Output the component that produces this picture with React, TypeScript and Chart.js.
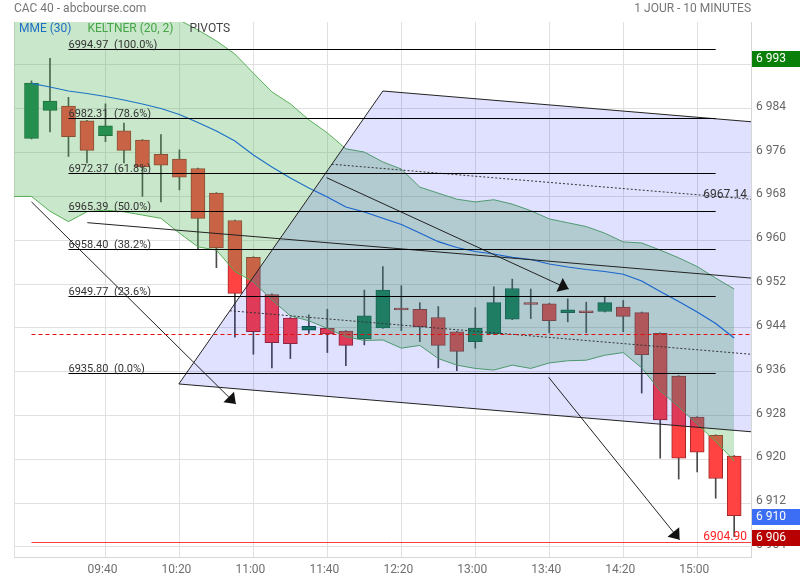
import React, { useEffect, useRef } from 'react';
import { Chart, registerables } from 'chart.js';

Chart.register(...registerables);

// ---------- DATA ----------
// candle index 0 = 09:00, one candle every 10 minutes
const opens = [6978.6, 6983.7, 6984.5, 6981.8, 6979.1, 6980.0, 6978.3, 6975.7, 6974.8, 6973.1, 6968.6, 6963.6, 6956.9, 6950.1, 6945.8, 6943.6, 6943.9, 6943.4, 6942.0, 6944.0, 6947.6, 6947.4, 6945.9, 6943.3, 6941.5, 6942.9, 6945.6, 6948.6, 6948.4, 6946.8, 6947.1, 6947.0, 6947.8, 6946.8, 6943.0, 6935.2, 6927.7, 6924.4, 6920.6];
const highs = [6989.1, 6993.2, 6986.1, 6981.9, 6984.9, 6981.4, 6978.4, 6979.3, 6976.5, 6973.2, 6968.7, 6963.7, 6957.0, 6950.2, 6945.9, 6946.4, 6947.4, 6943.5, 6950.9, 6955.2, 6951.7, 6948.6, 6947.9, 6943.4, 6947.7, 6951.5, 6952.9, 6951.1, 6948.5, 6949.3, 6948.7, 6949.7, 6949.0, 6946.9, 6943.1, 6935.3, 6927.8, 6924.5, 6920.7];
const lows = [6978.5, 6979.8, 6975.3, 6974.1, 6978.0, 6974.1, 6968.0, 6967.0, 6969.2, 6958.4, 6955.0, 6942.3, 6939.2, 6936.7, 6938.4, 6943.0, 6939.5, 6937.1, 6940.9, 6943.9, 6943.5, 6941.5, 6936.7, 6936.2, 6940.3, 6942.8, 6945.5, 6945.7, 6943.1, 6945.1, 6943.1, 6946.9, 6943.3, 6932.1, 6920.2, 6916.4, 6917.7, 6912.9, 6905.9];
const closes = [6988.7, 6985.4, 6978.9, 6976.4, 6980.9, 6976.4, 6973.4, 6973.7, 6971.5, 6964.0, 6958.6, 6950.3, 6943.3, 6941.3, 6941.1, 6944.3, 6942.9, 6940.8, 6946.2, 6950.9, 6947.3, 6944.2, 6940.8, 6939.7, 6943.9, 6948.6, 6951.2, 6948.3, 6945.3, 6947.3, 6946.8, 6948.6, 6946.1, 6939.1, 6927.2, 6920.2, 6921.3, 6916.5, 6909.7];

const mme30 = [6988.66, 6987.98, 6987.25, 6986.8, 6986.25, 6985.61, 6984.88, 6984.06, 6982.96, 6981.5, 6979.95, 6978.12, 6975.57, 6973.38, 6971.37, 6969.54, 6967.9, 6966.07, 6965.16, 6964.01, 6962.88, 6961.33, 6959.74, 6958.68, 6957.95, 6957.49, 6956.89, 6956.49, 6955.67, 6955.12, 6954.66, 6954.3, 6953.79, 6952.56, 6950.65, 6948.82, 6946.9, 6944.8, 6942.16];

const keltnerUpper = [7007.2, 7004.6, 7002.6, 7004.4, 7004.8, 7004.4, 7003.9, 7003.0, 7000.2, 6998.4, 6996.4, 6994.0, 6990.5, 6987.1, 6984.9, 6982.0, 6979.6, 6976.7, 6976.1, 6974.3, 6973.0, 6969.7, 6968.6, 6967.5, 6967.0, 6967.4, 6966.6, 6965.4, 6963.9, 6963.2, 6962.5, 6961.3, 6959.7, 6959.5, 6958.2, 6956.8, 6955.2, 6953.1, 6951.1];
const keltnerLower = [6968.0, 6965.3, 6963.4, 6965.2, 6965.5, 6965.2, 6964.6, 6964.0, 6961.3, 6958.8, 6958.2, 6954.3, 6952.4, 6949.1, 6946.2, 6945.3, 6943.9, 6942.4, 6941.7, 6941.8, 6940.3, 6940.8, 6938.4, 6937.2, 6936.6, 6936.3, 6937.2, 6936.6, 6937.6, 6938.0, 6938.1, 6939.0, 6939.5, 6936.7, 6932.5, 6929.6, 6926.4, 6923.3, 6919.7];

const xTickIndex = [4, 8, 12, 16, 20, 24, 28, 32, 36];
const xTickLabels = ['09:40', '10:20', '11:00', '11:40', '12:20', '13:00', '13:40', '14:20', '15:00'];
const yTickValues = [6904, 6912, 6920, 6928, 6936, 6944, 6952, 6960, 6968, 6976, 6984, 6992];

const pivotValues = [6994.97, 6982.31, 6972.37, 6965.39, 6958.4, 6949.77, 6935.8];
const pivotPercents = [100, 78.6, 61.8, 50, 38.2, 23.6, 0];
const pivotSpan = [2, 37];

const prevClose = 6942.83;
const supportLevel = 6904.9;

// drawing tools: [candle index, value]
const channelTop = [[19.0, 6987.25], [40, 6981.33]];
const channelBottom = [[7.97, 6933.76], [40, 6924.73]];
const channelQuarterHigh = [[16.24, 6973.88], [40, 6967.18]];
const channelQuarterLow = [[10.73, 6947.13], [40, 6938.88]];
const channelQuarterLabel = '6967.14';
const trendLine = [[3.02, 6963.21], [40, 6952.79]];
const arrows = [
  [[0, 6967.0], [11.05, 6930.1]],
  [[15.96, 6971.42], [29.05, 6951.1]],
  [[27.97, 6934.98], [35.05, 6905.3]],
];

const X_MIN = -0.946;
const X_MAX = 38.91;
const Y_MIN = 6902.17;
const Y_MAX = 6999.85;

// ---------- STYLE ----------
const UP = 'rgb(20,130,80)';
const DOWN = 'rgb(255,66,66)';
const GRID = '#e0e0e0';
const FONT = 'Roboto';

function fmtK(v: number) {
  const n = Math.round(v);
  return Math.floor(n / 1000) + ' ' + String(n % 1000).padStart(3, '0');
}

const overlayPlugin = {
  id: 'overlay',
  beforeDatasetsDraw(chart: any) {
    const { ctx, chartArea } = chart;
    ctx.save();
    ctx.strokeStyle = GRID;
    ctx.lineWidth = 1;
    ctx.beginPath();
    ctx.moveTo(chartArea.left + 0.5, chartArea.top);
    ctx.lineTo(chartArea.left + 0.5, chartArea.bottom);
    ctx.stroke();
    ctx.restore();
  },
  afterDatasetsDraw(chart: any) {
    const { ctx, chartArea } = chart;
    const xs = chart.scales.x;
    const ys = chart.scales.y;
    const px = (v: number) => xs.getPixelForValue(v);
    const py = (v: number) => ys.getPixelForValue(v);
    ctx.save();
    ctx.beginPath();
    ctx.rect(chartArea.left, chartArea.top, chartArea.right - chartArea.left, chartArea.bottom - chartArea.top);
    ctx.clip();

    // channel fill
    ctx.fillStyle = 'rgba(0,0,255,0.12)';
    ctx.beginPath();
    ctx.moveTo(px(channelTop[0][0]), py(channelTop[0][1]));
    ctx.lineTo(px(channelTop[1][0]), py(channelTop[1][1]));
    ctx.lineTo(px(channelBottom[1][0]), py(channelBottom[1][1]));
    ctx.lineTo(px(channelBottom[0][0]), py(channelBottom[0][1]));
    ctx.closePath();
    ctx.fill();

    const seg = (p: number[][]) => {
      ctx.beginPath();
      ctx.moveTo(px(p[0][0]), py(p[0][1]));
      ctx.lineTo(px(p[1][0]), py(p[1][1]));
      ctx.stroke();
    };

    ctx.strokeStyle = '#222';
    ctx.lineWidth = 1;
    seg(channelTop);
    seg(channelBottom);
    seg([channelBottom[0], channelTop[0]]);
    seg(trendLine);

    ctx.setLineDash([2, 2]);
    ctx.strokeStyle = '#333';
    seg(channelQuarterHigh);
    seg(channelQuarterLow);
    ctx.setLineDash([]);

    // arrows
    ctx.strokeStyle = '#222';
    ctx.fillStyle = '#111';
    arrows.forEach((a) => {
      const x1 = px(a[0][0]), y1 = py(a[0][1]), x2 = px(a[1][0]), y2 = py(a[1][1]);
      ctx.beginPath();
      ctx.moveTo(x1, y1);
      ctx.lineTo(x2, y2);
      ctx.stroke();
      const ang = Math.atan2(y2 - y1, x2 - x1);
      const back = 10, half = 7.5;
      const bx = x2 - back * Math.cos(ang), by = y2 - back * Math.sin(ang);
      ctx.beginPath();
      ctx.moveTo(x2, y2);
      ctx.lineTo(bx + half * Math.sin(ang), by - half * Math.cos(ang));
      ctx.lineTo(bx - half * Math.sin(ang), by + half * Math.cos(ang));
      ctx.closePath();
      ctx.fill();
    });

    // pivots
    ctx.strokeStyle = '#000';
    ctx.fillStyle = '#333';
    ctx.font = '11px ' + FONT;
    ctx.textAlign = 'left';
    ctx.textBaseline = 'alphabetic';
    pivotValues.forEach((v, i) => {
      const y = Math.round(py(v)) + 0.5;
      ctx.beginPath();
      ctx.moveTo(px(pivotSpan[0]), y);
      ctx.lineTo(px(pivotSpan[1]), y);
      ctx.stroke();
      ctx.fillText(v.toFixed(2) + '  (' + pivotPercents[i].toFixed(1) + '%)', px(pivotSpan[0]), y - 2);
    });

    // previous close dashed red
    ctx.strokeStyle = '#e01010';
    ctx.setLineDash([4, 3]);
    const yPc = Math.round(py(prevClose)) + 0.5;
    ctx.beginPath();
    ctx.moveTo(px(0), yPc);
    ctx.lineTo(chartArea.right, yPc);
    ctx.stroke();
    ctx.setLineDash([]);

    // support solid red
    ctx.strokeStyle = '#ff3b3b';
    const ySup = Math.round(py(supportLevel)) + 0.5;
    ctx.beginPath();
    ctx.moveTo(px(0), ySup);
    ctx.lineTo(chartArea.right, ySup);
    ctx.stroke();

    ctx.font = '12px ' + FONT;
    ctx.textAlign = 'right';
    ctx.fillStyle = '#ff2020';
    ctx.fillText(supportLevel.toFixed(2), chartArea.right - 4, ySup - 3);

    // quarter-line label
    const qa = channelQuarterHigh;
    const xr = chartArea.right - 4;
    const vr = qa[0][1] + (qa[1][1] - qa[0][1]) * ((xs.getValueForPixel(xr) - qa[0][0]) / (qa[1][0] - qa[0][0]));
    ctx.fillStyle = '#333';
    ctx.fillText(channelQuarterLabel, xr, py(vr) - 1);

    // legend
    ctx.textAlign = 'left';
    ctx.textBaseline = 'middle';
    const legend = [['MME (30)', '#1f6fc5'], ['KELTNER (20, 2)', '#47a447'], ['PIVOTS', '#444']];
    let lx = chartArea.left + 5;
    legend.forEach(([t, c]) => {
      ctx.fillStyle = c;
      ctx.fillText(t, lx, chartArea.top + 7);
      lx += ctx.measureText(t).width + 16;
    });

    ctx.restore();
  },
  afterDraw(chart: any) {
    const { ctx, chartArea } = chart;
    const ys = chart.scales.y;
    ctx.save();
    ctx.font = '12px ' + FONT;
    ctx.textBaseline = 'middle';
    ctx.fillStyle = '#757575';
    ctx.textAlign = 'left';
    ctx.fillText('CAC 40 - abcbourse.com', chartArea.left, 9);
    ctx.textAlign = 'right';
    ctx.fillText('1 JOUR - 10 MINUTES', chartArea.right, 9);

    const dayHigh = Math.max(...highs);
    const dayLow = Math.min(...lows);
    const last = closes[closes.length - 1];
    const boxes: [number, string][] = [[dayHigh, '#0a800a'], [last, '#3b6ef5'], [dayLow, '#b80000']];
    ctx.textAlign = 'left';
    boxes.forEach(([v, c]) => {
      const y = ys.getPixelForValue(v) + 1;
      ctx.fillStyle = c;
      ctx.fillRect(chartArea.right + 1, Math.round(y - 8), 800 - chartArea.right - 1, 16);
      ctx.fillStyle = '#fff';
      ctx.fillText(fmtK(v), chartArea.right + 5, Math.round(y));
    });
    ctx.restore();
  },
};

export default function App() {
  const ref = useRef<HTMLCanvasElement>(null);
  useEffect(() => {
    Chart.defaults.font.family = FONT;
    const idx = opens.map((_, i) => i);
    const chart = new Chart(ref.current as HTMLCanvasElement, {
      type: 'bar',
      data: {
        datasets: [
          {
            type: 'line',
            data: [{ x: X_MIN, y: keltnerUpper[0] }, ...keltnerUpper.map((v, i) => ({ x: i, y: v }))],
            borderColor: '#5aae5a',
            borderWidth: 1,
            backgroundColor: 'rgba(76,175,80,0.3)',
            fill: '+1',
            pointRadius: 0,
            tension: 0,
            order: 2,
          } as any,
          {
            type: 'line',
            data: [{ x: X_MIN, y: keltnerLower[0] }, ...keltnerLower.map((v, i) => ({ x: i, y: v }))],
            borderColor: '#5aae5a',
            borderWidth: 1,
            fill: false,
            pointRadius: 0,
            tension: 0,
            order: 2,
          } as any,
          {
            type: 'line',
            data: mme30.map((v, i) => ({ x: i, y: v })),
            borderColor: '#1f72c6',
            borderWidth: 1.2,
            fill: false,
            pointRadius: 0,
            tension: 0,
            order: 1,
          } as any,
          {
            type: 'bar',
            data: idx.map((i) => ({ x: i, y: [opens[i], closes[i]] })),
            backgroundColor: idx.map((i) => (closes[i] >= opens[i] ? UP : DOWN)),
            borderColor: idx.map((i) => (closes[i] >= opens[i] ? 'rgb(14,88,55)' : 'rgb(160,40,40)')),
            borderWidth: 1,
            borderSkipped: false,
            barThickness: 14,
            grouped: false,
            order: 4,
          } as any,
          {
            type: 'bar',
            data: idx.map((i) => ({ x: i, y: [lows[i], highs[i]] })),
            backgroundColor: '#4a4a4a',
            borderWidth: 0,
            barThickness: 1,
            grouped: false,
            order: 5,
          } as any,
        ],
      },
      options: {
        responsive: false,
        devicePixelRatio: 1,
        animation: false,
        events: [],
        layout: { padding: { left: 14, top: 22, right: 0, bottom: 0 } },
        plugins: { legend: { display: false }, tooltip: { enabled: false }, title: { display: false } },
        scales: {
          x: {
            type: 'linear',
            min: X_MIN,
            max: X_MAX,
            offset: false,
            bounds: 'data',
            afterBuildTicks: (s: any) => {
              s.ticks = xTickIndex.map((v) => ({ value: v }));
            },
            afterFit: (s: any) => {
              s.height = 23;
            },
            ticks: {
              callback: (_v: any, i: number) => xTickLabels[i],
              color: '#6f6f6f',
              font: { size: 12, family: FONT },
              padding: 6,
              maxRotation: 0,
              autoSkip: false,
              labelOffset: -3,
            },
            grid: { color: GRID, drawTicks: false, offset: false },
            border: { display: true, color: '#d6d6d6' },
          },
          y: {
            type: 'linear',
            position: 'right',
            min: Y_MIN,
            max: Y_MAX,
            bounds: 'data',
            afterBuildTicks: (s: any) => {
              s.ticks = yTickValues.map((v) => ({ value: v }));
            },
            afterFit: (s: any) => {
              s.width = 49;
            },
            ticks: {
              callback: (v: any) => fmtK(Number(v)),
              color: '#666',
              font: { size: 12, family: FONT },
              padding: 5,
              labelOffset: -2,
            },
            grid: { color: GRID, drawTicks: false },
            border: { display: true, color: '#d6d6d6' },
          },
        },
      } as any,
      plugins: [overlayPlugin],
    });
    return () => chart.destroy();
  }, []);
  return (
    <div style={{ position: 'fixed', left: 0, top: 0, width: 800, height: 580, background: '#fff' }}>
      <canvas ref={ref} width={800} height={580} style={{ display: 'block', width: 800, height: 580 }} />
    </div>
  );
}
